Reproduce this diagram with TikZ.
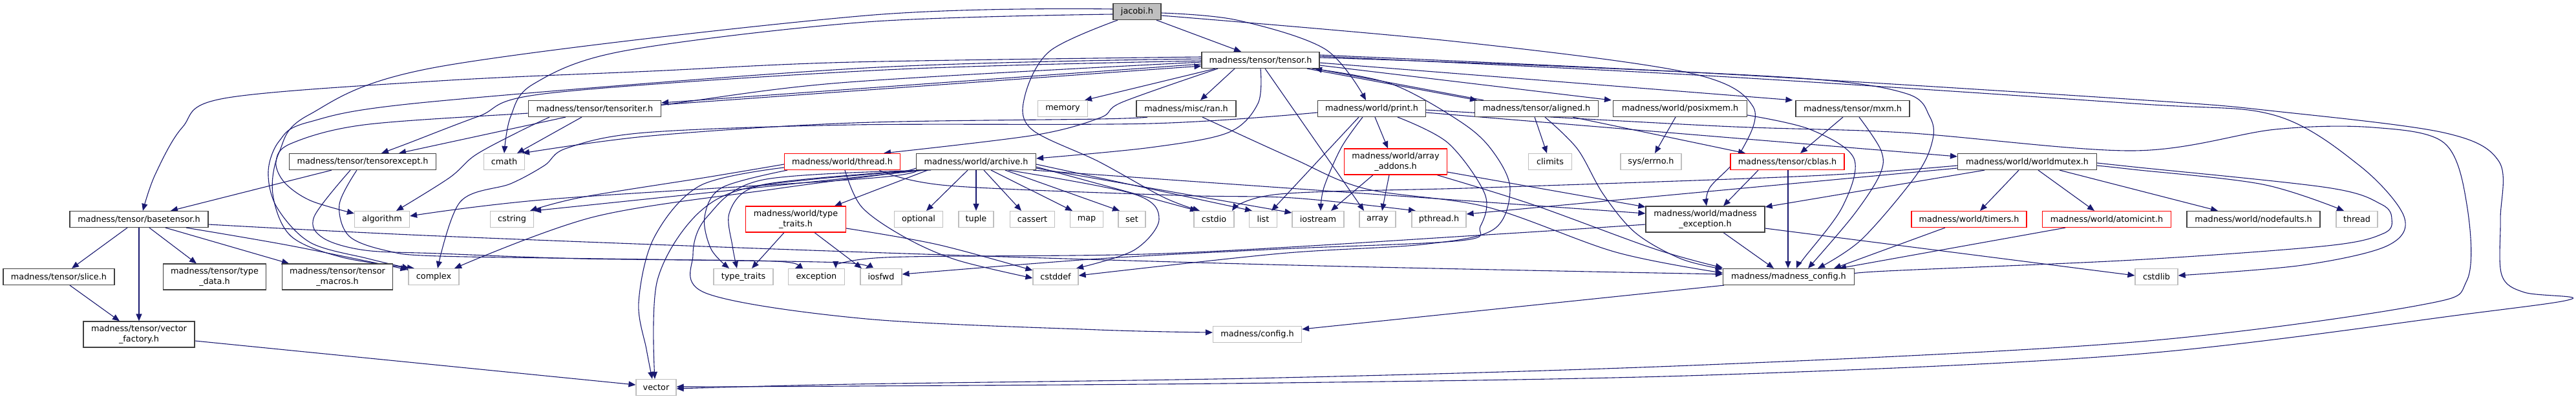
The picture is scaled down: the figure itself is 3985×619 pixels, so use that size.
\documentclass[tikz,border=0pt]{standalone}
\usepackage{fontspec}
\setmainfont{DejaVu Sans}
\usetikzlibrary{arrows.meta,backgrounds}
\newcommand\nodefont{\fontsize{12.8pt}{16pt}\selectfont}
\definecolor{edgec}{HTML}{191970}
\definecolor{boxd}{HTML}{404040}
\definecolor{boxg}{HTML}{BFBFBF}
\definecolor{boxr}{HTML}{FF0000}
\tikzset{
  box/.style={rectangle, draw=boxd, line width=1.2pt, fill=white, inner sep=0pt, font=\nodefont, align=center, minimum height=25pt},
  sysbox/.style={box, draw=boxg},
  redbox/.style={box, draw=boxr},
  rootbox/.style={box, fill=boxg},
  tall/.style={minimum height=40pt},
  e/.style={draw=edgec, line width=1.1pt, -{Triangle[length=11pt,width=9pt]}},
  sm/.style={smooth, tension=0.55}
}
\begin{document}
\begin{tikzpicture}[x=1pt,y=-1pt]
\useasboundingbox (0,0) rectangle (3985,619);
% ---------- nodes ----------
\node[rootbox, minimum width=74pt] (jacobi) at (1759,18) {jacobi.h};
\node[box, minimum width=182pt] (tensor) at (1950,93) {madness/tensor/tensor.h};
\node[box, minimum width=205pt] (tensoriter) at (920,168) {madness/tensor/tensoriter.h};
\node[sysbox, minimum width=77pt] (memory) at (1644,168) {memory};
\node[box, minimum width=154pt] (ran) at (1835,168) {madness/misc/ran.h};
\node[box, minimum width=167pt] (print) at (2122,168) {madness/world/print.h};
\node[box, minimum width=191pt] (aligned) at (2377,168) {madness/tensor/aligned.h};
\node[box, minimum width=207pt] (posixmem) at (2599,168) {madness/world/posixmem.h};
\node[box, minimum width=176pt] (mxm) at (2866,168) {madness/tensor/mxm.h};
\node[box, minimum width=227pt] (tensorexcept) at (561,250) {madness/tensor/tensorexcept.h};
\node[sysbox, minimum width=63pt] (cmath) at (780,250) {cmath};
\node[redbox, minimum width=179pt] (threadh) at (1303,250) {madness/world/thread.h};
\node[box, minimum width=185pt] (archive) at (1510,250) {madness/world/archive.h};
\node[redbox, tall, minimum width=159pt] (arrayaddons) at (2159,250) {madness/world/array\\\_addons.h};
\node[sysbox, minimum width=67pt] (climits) at (2398,250) {climits};
\node[sysbox, minimum width=94pt] (errno) at (2554,250) {sys/errno.h};
\node[redbox, minimum width=176pt] (cblas) at (2765,250) {madness/tensor/cblas.h};
\node[box, minimum width=215pt] (worldmutex) at (3136,250) {madness/world/worldmutex.h};
\node[box, minimum width=214pt] (basetensor) at (215,339) {madness/tensor/basetensor.h};
\node[sysbox, minimum width=85pt] (algorithm) at (591,339) {algorithm};
\node[sysbox, minimum width=67pt] (cstring) at (792,339) {cstring};
\node[redbox, tall, minimum width=155pt] (typetraitsh) at (1231,339) {madness/world/type\\\_traits.h};
\node[sysbox, minimum width=75pt] (optional) at (1421,339) {optional};
\node[sysbox, minimum width=54pt] (tuple) at (1510,339) {tuple};
\node[sysbox, minimum width=69pt] (cassert) at (1597,339) {cassert};
\node[sysbox, minimum width=51pt] (map) at (1681,339) {map};
\node[sysbox, minimum width=42pt] (set) at (1751,339) {set};
\node[sysbox, minimum width=62pt] (cstdio) at (1878,339) {cstdio};
\node[sysbox, minimum width=43pt] (list) at (1954,339) {list};
\node[sysbox, minimum width=80pt] (iostream) at (2039,339) {iostream};
\node[sysbox, minimum width=56pt] (array) at (2131,339) {array};
\node[sysbox, minimum width=84pt] (pthread) at (2226,339) {pthread.h};
\node[box, tall, minimum width=184pt] (madexc) at (2638,339) {madness/world/madness\\\_exception.h};
\node[redbox, minimum width=178pt] (timers) at (3046,339) {madness/world/timers.h};
\node[redbox, minimum width=199pt] (atomicint) at (3259,339) {madness/world/atomicint.h};
\node[box, minimum width=206pt] (nodefaults) at (3486,339) {madness/world/nodefaults.h};
\node[sysbox, minimum width=64pt] (thread) at (3646,339) {thread};
\node[box, minimum width=172pt] (slice) at (91,428) {madness/tensor/slice.h};
\node[box, tall, minimum width=159pt] (typedata) at (332,428) {madness/tensor/type\\\_data.h};
\node[box, tall, minimum width=171pt] (tensormacros) at (522,428) {madness/tensor/tensor\\\_macros.h};
\node[sysbox, minimum width=78pt] (complex) at (671,428) {complex};
\node[sysbox, minimum width=92pt] (typetraits) at (1150,428) {type\_traits};
\node[sysbox, minimum width=87pt] (exception) at (1263,428) {exception};
\node[sysbox, minimum width=64pt] (iosfwd) at (1363,428) {iosfwd};
\node[sysbox, minimum width=70pt] (cstddef) at (1633,428) {cstddef};
\node[box, minimum width=203pt] (madconfig) at (2767,428) {madness/madness\_config.h};
\node[sysbox, minimum width=66pt] (cstdlib) at (3336,428) {cstdlib};
\node[box, tall, minimum width=172pt] (vectorfactory) at (215,517) {madness/tensor/vector\\\_factory.h};
\node[sysbox, minimum width=137pt] (config) at (1945,517) {madness/config.h};
\node[sysbox, minimum width=62pt] (vector) at (1015,599) {vector};
% ---------- edges ----------
\begin{pgfonlayer}{background}
% jacobi.h
\draw[e] ([xshift=30]jacobi.south) -- ([xshift=-30]tensor.north);
\draw[e] plot[sm] coordinates {([yshift=-2]jacobi.east) (1913,31) (2050,76) ([xshift=-9]print.north)};
\draw[e] plot[sm] coordinates {([yshift=-6]jacobi.east) (2250,64) (2610,112) (2712,165) (2690,240) (2645,290) ([xshift=2]madexc.north)};
\draw[e] plot[sm] coordinates {([xshift=-30]jacobi.south) (1624,79) (1585,150) (1596,200) (1700,250) (1800,305) ([xshift=-22]cstdio.north)};
\draw[e] plot[sm] coordinates {([yshift=-4]jacobi.west) (1340,34) (964,79) (825,130) (790,180) (cmath.north)};
\draw[e] plot[sm] coordinates {([yshift=4]jacobi.west) (1340,24) (680,103) (477,178) (432,235) (422,300) (450,365) (530,398) ([xshift=-30]complex.north)};
% tensor.h
\draw[e] ([yshift=-6]tensor.west) -- ([yshift=9]tensoriter.east);
\draw[e] ([yshift=6]tensoriter.east) -- ([yshift=-9]tensor.west);
\draw[e] plot[sm] coordinates {([yshift=5]tensor.west) (1320,96) (1007,110) (680,125) (347,152) (282,197) (240,270) ([xshift=6]basetensor.north)};
\draw[e] plot[sm] coordinates {([yshift=2]tensor.west) (1340,105) (660,158) (477,189) (432,218) (415,265) (428,320) (480,375) (570,400) ([xshift=-38]complex.north)};
\draw[e] plot[sm] coordinates {([yshift=-1]tensor.west) (1370,108) (850,144) (740,180) (630,222) ([xshift=29]tensorexcept.north)};
\draw[e] plot[sm] coordinates {([yshift=-3]tensor.west) (1300,128) (1000,165) (818,175) (563,193) (450,222) (427,250) (440,282) (480,310) ([yshift=9]algorithm.west)};
\draw[e] ([xshift=-70]tensor.south) -- ([xshift=34]memory.north);
\draw[e] ([xshift=-40]tensor.south) -- ([xshift=22]ran.north);
\draw[e] plot[sm] coordinates {([xshift=-66]tensor.south) (1736,158) (1702,182) (1600,209) ([xshift=64]threadh.north)};
\draw[e] plot[sm] coordinates {(tensor.south) (1946,160) (1900,205) (1780,228) ([yshift=5]archive.east)};
\draw[e] ([xshift=7]tensor.south) -- ([xshift=-21]array.north);
\draw[e] ([xshift=72]tensor.south) -- ([xshift=-92]aligned.north);
\draw[e] ([xshift=-82]aligned.north) -- ([xshift=84]tensor.south);
\draw[e] ([yshift=-8]tensor.east) -- ([xshift=-2]posixmem.north west);
\draw[e] ([yshift=-4]tensor.east) -- ([xshift=-4]mxm.north west);
\draw[e] plot[sm] coordinates {([yshift=4]tensor.east) (2400,102) (2800,122) (2950,145) (2985,180) (2990,215) (2965,270) (2880,370) ([xshift=45]madconfig.north)};
\draw[e] plot[sm] coordinates {([yshift=6]tensor.east) (2640,117) (3300,160) (3518,178) (3650,256) (3719,335) (3693,380) (3562,410) ([yshift=2]cstdlib.east)};
\draw[e] plot[sm] coordinates {([yshift=8]tensor.east) (2640,113) (3320,155) (3520,172) (3780,205) (3866,250) (3868,340) (3870,425) (3905,452) (3979,462) (3820,485) (3300,548) (2640,580) (1980,592) (1320,597) ([yshift=1]vector.east)};
\draw[e] plot[sm] coordinates {([xshift=80]tensor.south) (2153,130) (2262,190) (2310,235) (2336,292) (2310,355) (2200,378) (1980,392) ([yshift=2]cstddef.east)};
% tensoriter.h
\draw[e] ([xshift=-45]tensoriter.south) -- ([xshift=56]tensorexcept.north);
\draw[e] ([xshift=-20]tensoriter.south) -- ([xshift=20]cmath.north);
\draw[e] plot[sm] coordinates {([xshift=-70]tensoriter.south) (800,205) (735,240) (695,275) ([xshift=22]algorithm.north)};
% tensorexcept.h
\draw[e] ([xshift=-48]tensorexcept.south) -- ([xshift=49]basetensor.north);
\draw[e] plot[sm] coordinates {([xshift=-19]tensorexcept.south) (486,335) (500,368) (565,387) (680,392) (900,400) (1200,404) ([xshift=-33]exception.north)};
\draw[e] plot[sm] coordinates {([xshift=-9]tensorexcept.south) (525,316) (540,365) (600,388) (680,396) (1000,401) (1300,406) ([xshift=-24]iosfwd.north)};
% basetensor.h
\draw[e] ([xshift=-18]basetensor.south) -- ([xshift=20]slice.north);
\draw[e] (basetensor.south) -- (vectorfactory.north);
\draw[e] ([xshift=16]basetensor.south) -- ([xshift=-28]typedata.north);
\draw[e] ([xshift=41]basetensor.south) -- ([xshift=-75]tensormacros.north);
\draw[e] plot[sm] coordinates {([xshift=73]basetensor.south) (450,380) ([xshift=-1,yshift=-2]complex.north west)};
\draw[e] plot[sm] coordinates {([yshift=-8]basetensor.east) (680,365) (1340,390) (2000,410) ([yshift=4]madconfig.west)};
% slice.h, vector_factory.h
\draw[e] ([xshift=17]slice.south) -- ([xshift=-30]vectorfactory.north);
\draw[e] ([yshift=-10]vectorfactory.east) -- ([yshift=4]vector.west);
% thread.h
\draw[e] plot[sm] coordinates {([yshift=-4]threadh.west) (1094,274) (900,305) ([xshift=28]cstring.north)};
\draw[e] plot[sm] coordinates {([xshift=-85]threadh.south) (1117,290) (1090,335) (1100,385) ([xshift=-22]typetraits.north)};
\draw[e] plot[sm] coordinates {([yshift=-9]threadh.west) (1083,287) (1012,367) (988,467) (1000,540) ([xshift=-6]vector.north)};
\draw[e] plot[sm] coordinates {([xshift=4]threadh.south) (1333,320) (1400,367) (1480,402) ([yshift=-2]cstddef.west)};
\draw[e] plot[sm] coordinates {([xshift=57]threadh.south) (1467,287) (1820,302) (2000,306) ([xshift=-36]pthread.north)};
% type_traits.h
\draw[e] ([xshift=-18]typetraitsh.south) -- ([xshift=13]typetraits.north);
\draw[e] ([xshift=29]typetraitsh.south) -- ([xshift=-30]iosfwd.north);
\draw[e] plot[sm] coordinates {([yshift=-14]typetraitsh.east) (1450,378) ([yshift=10]cstddef.west)};
% archive.h
\draw[e] ([xshift=-13]archive.south) -- ([xshift=12]optional.north);
\draw[e] (archive.south) -- (tuple.north);
\draw[e] ([xshift=12]archive.south) -- ([xshift=-17]cassert.north);
\draw[e] ([xshift=23]archive.south) -- ([xshift=-22]map.north);
\draw[e] ([xshift=45]archive.south) -- ([xshift=-19]set.north);
\draw[e] ([yshift=-8]archive.east) -- ([xshift=-26]cstdio.north);
\draw[e] ([yshift=-4]archive.east) -- ([xshift=-17]list.north);
\draw[e] ([yshift=-10]archive.east) -- ([yshift=10]iostream.west);
\draw[e] plot[sm] coordinates {([xshift=-5]archive.south east) (1980,290) ([yshift=9]madexc.west)};
\draw[e] ([xshift=-80]archive.south) -- ([xshift=34]cstring.north);
\draw[e] ([xshift=-75]archive.south) -- ([xshift=60]typetraitsh.north);
\draw[e] plot[sm] coordinates {([xshift=-85]archive.south) (1250,278) (1160,292) (1128,330) (1133,380) ([xshift=-10]typetraits.north)};
\draw[e] plot[sm] coordinates {([xshift=-88]archive.south) (1183,285) (1083,327) (1017,433) ([xshift=-2]vector.north)};
\draw[e] plot[sm] coordinates {([xshift=-70]archive.south) (1180,278) (1094,335) (1072,394) (1094,454) (1340,493) (1700,510) ([yshift=3]config.west)};
\draw[e] plot[sm] coordinates {([xshift=-92]archive.south) (1340,276) (850,308) ([yshift=5]algorithm.east)};
\draw[e] plot[sm] coordinates {([yshift=-10]archive.west) (1380,268) (1200,292) (920,335) ([xshift=32]complex.north)};
\draw[e] plot[sm] coordinates {([xshift=50]archive.south) (1754,300) (1793,339) (1754,387) ([xshift=32]cstddef.north)};
% ran.h
\draw[e] plot[sm] coordinates {([xshift=-60]ran.south) (1700,184) (1320,190) (1007,210) ([xshift=28]cmath.north)};
\draw[e] plot[sm] coordinates {([xshift=25]ran.south) (2000,245) (2113,292) (2300,320) (2500,390) ([yshift=6]madconfig.west)};
% print.h
\draw[e] ([xshift=5]print.south) -- ([xshift=-12]arrayaddons.north);
\draw[e] ([yshift=-6]print.east) -- ([yshift=8]worldmutex.west);
\draw[e] ([xshift=-20]print.south) -- ([xshift=13]list.north);
\draw[e] plot[sm] coordinates {([xshift=-14]print.south) (2075,228) (2048,290) ([xshift=4]iostream.north)};
\draw[e] plot[sm] coordinates {([yshift=-6]print.west) (1780,191) (1320,193) (998,205) (877,229) (842,256) (790,284) (712,312) ([xshift=6]complex.north)};
\draw[e] plot[sm] coordinates {([xshift=40]print.south) (2240,221) (2297,300) (2290,350) (2260,372) (1980,385) (1700,400) ([yshift=4]iosfwd.east)};
\draw[e] plot[sm] coordinates {([yshift=-2]print.east) (2660,195) (2944,205) (3300,233) (3520,200) (3671,197) (3781,221) (3816,316) (3816,434) (3737,473) (3300,529) (2640,564) (1980,584) (1320,594) ([yshift=-2]vector.east)};
% array_addons.h
\draw[e] ([xshift=-35]arrayaddons.south) -- ([xshift=20]iostream.north);
\draw[e] ([xshift=-10]arrayaddons.south) -- ([xshift=7]array.north);
\draw[e] ([yshift=-16]arrayaddons.east) -- ([yshift=19]madexc.west);
\draw[e] plot[sm] coordinates {([xshift=64]arrayaddons.south) (2370,316) (2560,385) ([yshift=14]madconfig.west)};
% aligned.h
\draw[e] ([xshift=-3]aligned.south) -- ([xshift=-5]climits.north);
\draw[e] ([xshift=56]aligned.south) -- ([xshift=-65]cblas.north);
\draw[e] plot[sm] coordinates {([xshift=13]aligned.south) (2440,230) (2480,300) (2530,360) (2600,400) ([yshift=12]madconfig.west)};
% posixmem.h
\draw[e] ([xshift=-7]posixmem.south) -- ([xshift=6]errno.north);
\draw[e] plot[sm] coordinates {([yshift=-10]posixmem.east) (2800,200) (2868,245) (2850,320) (2790,400) ([xshift=12]madconfig.north)};
% mxm.h
\draw[e] ([xshift=-15]mxm.south) -- ([xshift=20]cblas.north);
\draw[e] plot[sm] coordinates {([xshift=10]mxm.south) (2910,233) (2908,270) (2867,333) ([xshift=30]madconfig.north)};
% cblas.h
\draw[e] ([xshift=-45]cblas.south) -- ([xshift=28]madexc.north);
\draw[e] ([xshift=1]cblas.south) -- ([xshift=-1]madconfig.north);
% madness_exception.h
\draw[e] ([xshift=28]madexc.south) -- ([xshift=-23]madconfig.north);
\draw[e] ([yshift=-14]madexc.east) -- ([yshift=2]cstdlib.west);
\draw[e] plot[sm] coordinates {([yshift=-8]madexc.west) (2300,363) (1800,392) (1370,398) ([xshift=30]exception.north)};
% worldmutex.h
\draw[e] ([xshift=-13]worldmutex.south) -- ([xshift=17]timers.north);
\draw[e] ([xshift=17]worldmutex.south) -- ([xshift=-19]atomicint.north);
\draw[e] ([xshift=50]worldmutex.south) -- ([xshift=-55]nodefaults.north);
\draw[e] plot[sm] coordinates {([yshift=-6]worldmutex.east) (3300,262) (3500,285) ([xshift=-20]thread.north)};
\draw[e] plot[sm] coordinates {([yshift=-2]worldmutex.east) (3300,258) (3600,290) (3684,316) (3700,339) (3687,361) (3600,380) (3300,402) (2900,420) ([yshift=1]madconfig.east)};
\draw[e] ([xshift=-66]worldmutex.south) -- ([yshift=19]madexc.east);
\draw[e] plot[sm] coordinates {([yshift=-6]worldmutex.west) (2800,272) (2300,290) (1980,300) ([xshift=28]cstdio.north)};
\draw[e] ([yshift=-10]worldmutex.west) -- ([yshift=8]pthread.east);
% timers.h, atomicint.h
\draw[e] ([xshift=-37]timers.south) -- ([xshift=70]madconfig.north);
\draw[e] ([xshift=-64]atomicint.south) -- ([xshift=78]madconfig.north);
% madness_config.h
\draw[e] ([xshift=-100]madconfig.south) -- ([yshift=8]config.east);
\end{pgfonlayer}
\end{tikzpicture}
\end{document}
